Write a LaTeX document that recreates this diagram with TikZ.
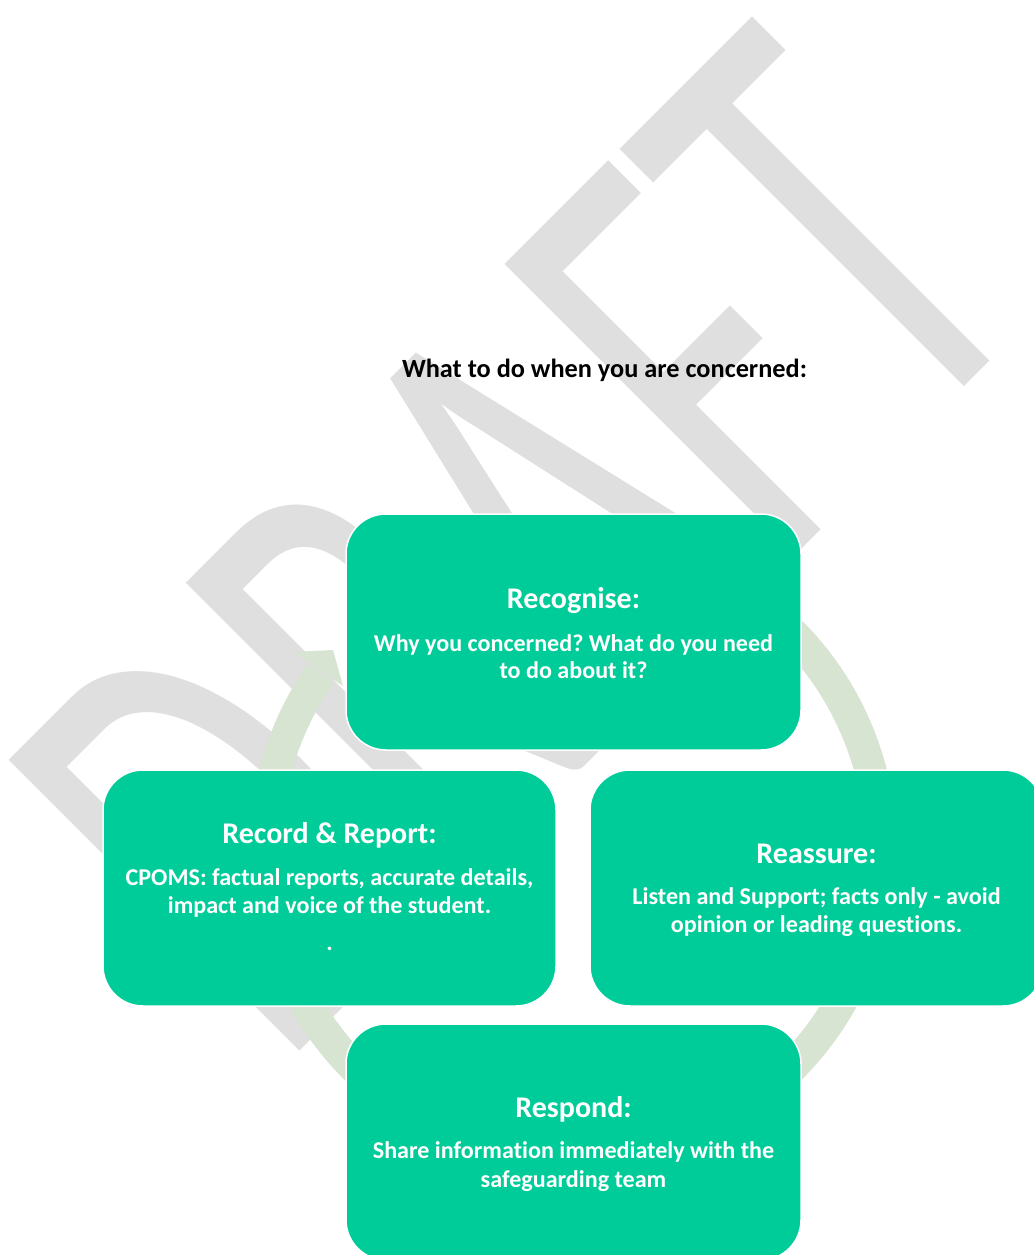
\documentclass[tikz,border=0pt]{standalone}
\usepackage{fontspec}
\setmainfont[Ligatures=NoCommon]{Carlito}
\frenchspacing
\definecolor{boxgreen}{HTML}{00CC99}
\definecolor{ringgreen}{HTML}{D7E4D1}
\definecolor{wmgray}{HTML}{DFDFDF}
\tikzset{
  wm/.style={font=\fontsize{641}{641}\selectfont, text=wmgray, anchor=base, inner sep=0pt, rotate=45, xscale=0.63},
  ring/.style={draw=ringgreen, line width=32pt},
  box/.style={draw=white, line width=1.5pt, fill=boxgreen, rounded corners=40pt, minimum width=455pt, minimum height=236pt, inner sep=0pt},
  ttl/.style={text=white, font=\bfseries\fontsize{30}{30}\selectfont, anchor=base, inner sep=0pt},
  bdy/.style={text=white, font=\bfseries\fontsize{24.1}{24.1}\selectfont, anchor=base, inner sep=0pt},
  hdr/.style={text=black, font=\bfseries\fontsize{26.3}{26.3}\selectfont, anchor=base, inner sep=0pt}
}
\begin{document}
\frenchspacing
\begin{tikzpicture}[x=1pt,y=1pt]
\useasboundingbox (0,0) rectangle (1033,-1255);
\fill[white] (0,0) rectangle (1033,-1255);

% watermark
\node[wm] (draft) at (664,-687) {DRAFT};

% header
\node[hdr] (head) at (604.5,-377) {What to do when you are concerned:};

% cycle ring
\coordinate (rc) at (573,-850);
\draw[ring] ([shift={(110:308)}]rc) arc[start angle=110, end angle=-215, radius=308];
\coordinate (hOut) at (293,-652);
\coordinate (hTip) at (333,-650);
\coordinate (hIn) at (343,-686);
\fill[ringgreen] (hOut) -- (hTip) -- (hIn) -- cycle;

% boxes
\node[box] (recog) at (573.5,-632) {};
\node[box, minimum width=453pt] (record) at (329.5,-888) {};
\node[box, minimum width=453pt] (reass) at (816.5,-888) {};
\node[box] (resp) at (573.5,-1142) {};

% Recognise
\node[ttl] (t1) at (573.5,-608) {Recognise:};
\node[bdy] (b1a) at (573.5,-651) {Why you concerned? What do you need};
\node[bdy] (b1b) at (573.5,-678) {to do about it?};

% Record & Report
\node[ttl] (t2) at (329.5,-843) {Record \& Report:};
\node[bdy] (b2a) at (329.5,-885) {CPOMS: factual reports, accurate details,};
\node[bdy] (b2b) at (329.5,-913) {impact and voice of the student.};
\node[bdy] (b2c) at (329.5,-950) {.};

% Reassure
\node[ttl] (t3) at (816.5,-863) {Reassure:};
\node[bdy] (b3a) at (816.5,-904) {Listen and Support; facts only - avoid};
\node[bdy] (b3b) at (816.5,-932) {opinion or leading questions.};

% Respond
\node[ttl] (t4) at (573.5,-1117) {Respond:};
\node[bdy] (b4a) at (573.5,-1158) {Share information immediately with the};
\node[bdy] (b4b) at (573.5,-1187) {safeguarding team};
\end{tikzpicture}
\end{document}
